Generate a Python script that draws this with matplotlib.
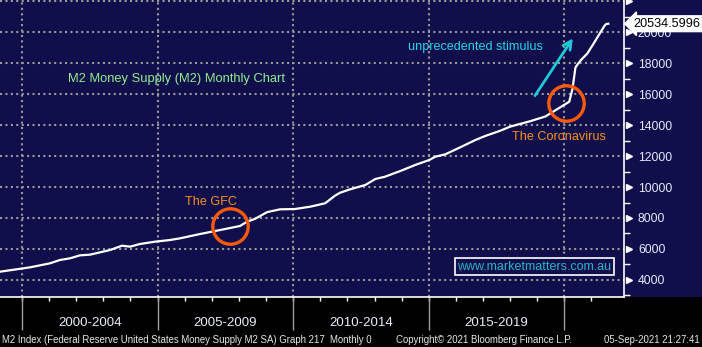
import matplotlib
matplotlib.use("Agg")
import matplotlib.pyplot as plt
from matplotlib.patches import Rectangle
import numpy as np

plt.rcParams['font.family'] = ['Liberation Sans', 'DejaVu Sans']

# M2 money supply, USD bn (decimal years)
years = [1999.19, 2000.30, 2001.03, 2001.40, 2001.77, 2002.14, 2002.51, 2002.88,
         2003.25, 2003.69, 2003.99, 2004.35, 2004.91, 2005.46, 2005.83, 2006.57,
         2007.31, 2008.04, 2008.30, 2008.60, 2009.04, 2009.52, 2010.07, 2010.63,
         2011.18, 2011.55, 2011.73, 2012.10, 2012.66, 2013.03, 2013.39, 2013.95,
         2014.50, 2015.02, 2015.24, 2015.61, 2016.16, 2016.72, 2017.08, 2017.64,
         2018.01, 2018.75, 2019.30, 2019.67, 2020.04, 2020.18, 2020.30, 2020.41,
         2020.59, 2020.85, 2021.07, 2021.33, 2021.48, 2021.55, 2021.62]
m2 = [4535, 4817, 5075, 5290, 5398, 5590, 5635, 5785,
      5935, 6213, 6150, 6322, 6473, 6580, 6688, 6968,
      7226, 7484, 7762, 7950, 8380, 8560, 8580, 8730,
      8950, 9450, 9630, 9850, 10130, 10516, 10665, 11032,
      11420, 11742, 11955, 12108, 12560, 13032, 13290, 13632,
      13900, 14250, 14550, 14950, 15350, 15500, 16323, 17716,
      18148, 18620, 19226, 19974, 20400, 20520, 20534.5996]
last_value = 20534.5996

period_starts = [2000, 2005, 2010, 2015]
period_labels = ["2000-2004", "2005-2009", "2010-2014", "2015-2019"]
grid_years = [2000, 2005, 2010, 2015, 2020]
y_ticks = list(range(4000, 22001, 2000))

gfc = (2007.68, 7484)
covid = (2020.07, 15419)
arrow_tail = (2018.86, 15742)
arrow_head = (2020.37, 19742)

navy = '#100e4b'
fig = plt.figure(figsize=(7.02, 3.47), dpi=100, facecolor='black')
fig.patches.append(Rectangle((0, 50 / 347), 1, 297 / 347, transform=fig.transFigure,
                             facecolor=navy, edgecolor='none', zorder=-10))
ax = fig.add_axes([0, 50 / 347, 624 / 702, 297 / 347])
ax.set_facecolor(navy)

ax.plot(years, m2, color='white', lw=1.6, zorder=3)

ax.set_xlim(1999.19, 2022.2)
ax.set_ylim(2903, 22065)

for g in grid_years:
    ax.axvline(g, color='#9a9a9a', lw=1.5, ls=(0, (1, 1.6)), zorder=1)
for t in y_ticks:
    ax.axhline(t, color='#9a9a9a', lw=1.5, ls=(0, (1, 1.6)), zorder=1)

# spines
for s in ['top', 'left']:
    ax.spines[s].set_visible(False)
ax.spines['right'].set_color('white')
ax.spines['bottom'].set_color('white')
ax.spines['right'].set_linewidth(1.2)
ax.spines['bottom'].set_linewidth(1.2)

# y axis on the right
ax.yaxis.tick_right()
ax.set_yticks(y_ticks)
ax.set_yticklabels([str(t) if t <= 20000 else '' for t in y_ticks])
ax.set_yticks(np.arange(3000, 22001, 2000), minor=True)
ax.tick_params(axis='y', which='major', length=0, pad=10, labelsize=8.8,
               labelcolor='#e4ecff')
ax.tick_params(axis='y', which='minor', length=4, width=1, color='white', direction='out')
ytr = ax.get_yaxis_transform()
ax.plot([1.008] * len(y_ticks), y_ticks, marker='>', ms=5, color='white', ls='none',
        transform=ytr, clip_on=False, zorder=4)

# x axis: yearly ticks, no labels
ax.set_xticks(np.arange(2000, 2022, 1))
ax.set_xticklabels([])
ax.tick_params(axis='x', length=3, width=1, color='white', direction='out')

xtr = ax.get_xaxis_transform()
ax.vlines(grid_years, -0.111, 0, transform=xtr, color='#a0a0a0', lw=1, clip_on=False)
for start, lab in zip(period_starts, period_labels):
    ax.text(start + 2.5, -0.0865, lab, transform=xtr, ha='center', va='center',
            fontsize=9.5, color='#e8eef8')

# annotations
ax.text(2001.7, 4000 + (280 - 79) / 31 * 2000, "M2 Money Supply (M2) Monthly Chart",
        color='#90ee90', fontsize=9.3, ha='left', va='center')
ax.text(2006.0, 4000 + (280 - 202) / 31 * 2000, "The GFC", color='#f7901e',
        fontsize=9.1, ha='left', va='center')
ax.text(2018.08, 4000 + (280 - 137) / 31 * 2000, "The Coronavirus", color='#f7901e',
        fontsize=9.1, ha='left', va='center')
ax.text(2014.24, 4000 + (280 - 47) / 31 * 2000, "unprecedented stimulus", color='#22d4e6',
        fontsize=9.1, ha='left', va='center')
ax.annotate('', xy=arrow_head, xytext=arrow_tail,
            arrowprops=dict(arrowstyle='->,head_length=0.6,head_width=0.3',
                            color='#22c8d8', lw=2))
for c in [gfc, covid]:
    ax.plot(*c, marker='o', ms=25.5, mfc='none', mec='#ff5a0a', mew=2.4, zorder=5)

ax.text(0.7325, 4000 + (280 - 267) / 31 * 2000, "www.marketmatters.com.au",
        transform=ax.get_yaxis_transform(), color='#2fb4c4', fontsize=9, ha='left',
        va='center', zorder=6,
        bbox=dict(boxstyle='square,pad=0.2', fc=navy, ec='white', lw=1.2))

# last value box
ax.annotate(f"{last_value:.4f}", xy=(1.0, last_value), xycoords=ytr,
            xytext=(1.0145, last_value), textcoords=ytr, ha='left', va='center',
            fontsize=9.1, color='black', annotation_clip=False, zorder=10,
            bbox=dict(boxstyle='larrow,pad=0.15', fc='white', ec='white'))

# footer
fig.text(2 / 702, 1 - 340 / 347, "M2 Index (Federal Reserve United States Money Supply M2 SA) Graph 217  Monthly 0",
         color='#e8e8e8', fontsize=6.9, ha='left', va='center')
fig.text(396 / 702, 1 - 340 / 347, "Copyright\u00a9 2021 Bloomberg Finance L.P.",
         color='#e8e8e8', fontsize=6.9, ha='left', va='center')
fig.text(700 / 702, 1 - 340 / 347, "05-Sep-2021 21:27:41",
         color='#e8e8e8', fontsize=6.9, ha='right', va='center')

fig.savefig('out.png', dpi=100, facecolor='black')
